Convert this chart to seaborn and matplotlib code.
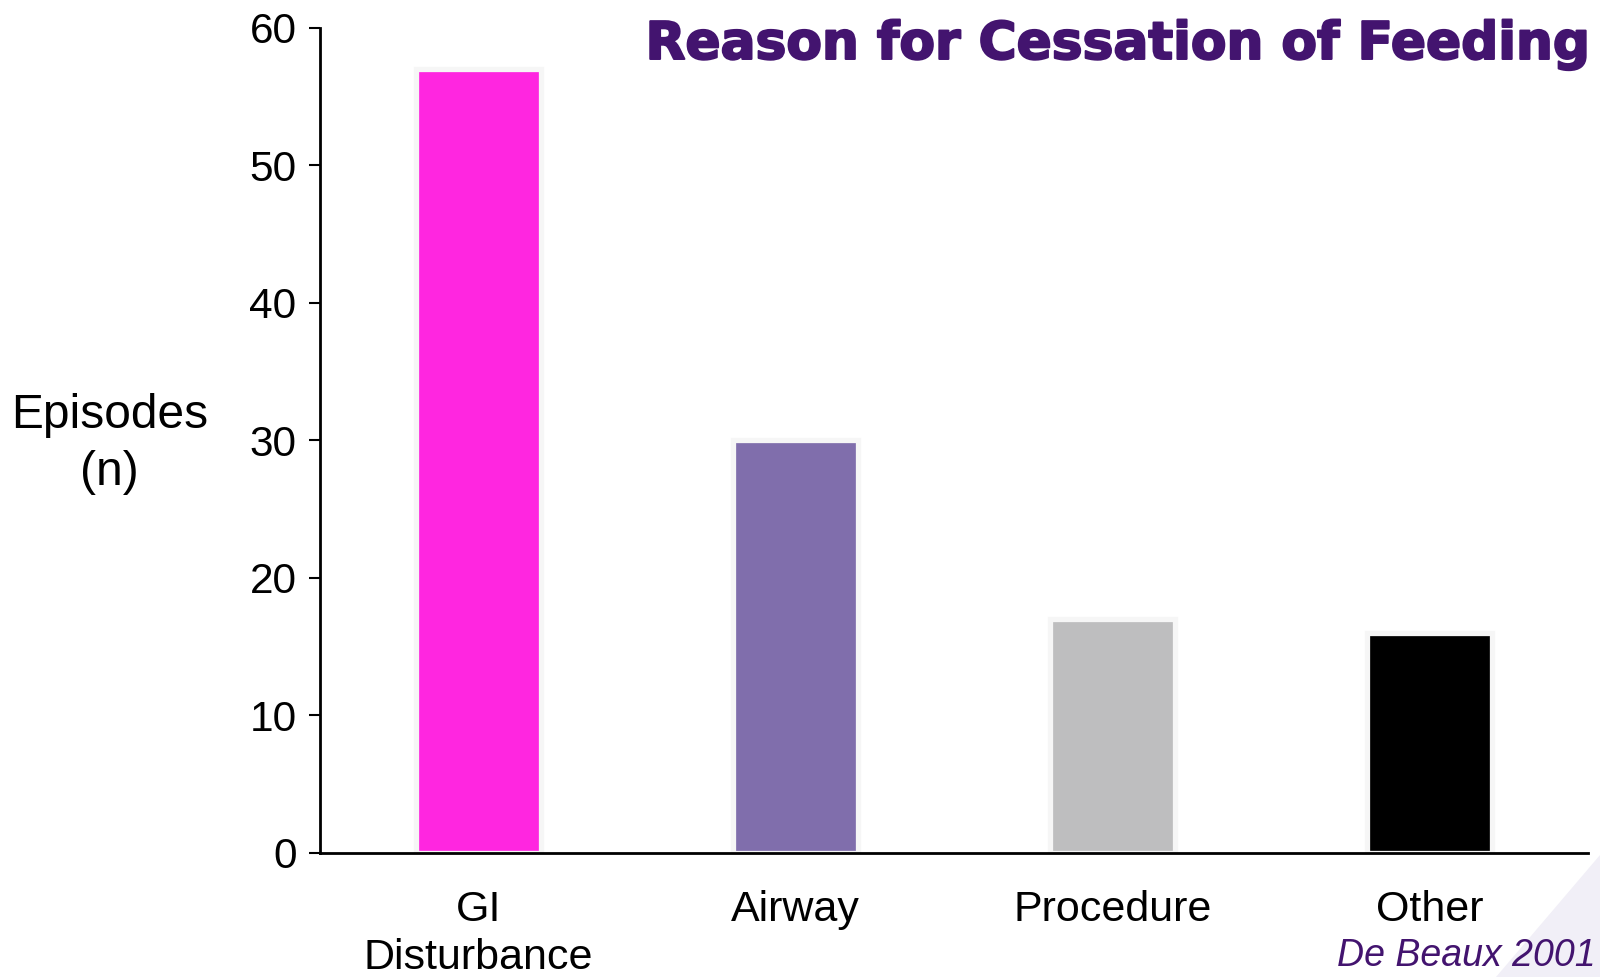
import matplotlib
matplotlib.use("Agg")
import matplotlib.pyplot as plt
import matplotlib.patheffects as pe
import seaborn as sns
import pandas as pd
import numpy as np
from matplotlib.patches import Polygon

# Episodes by reason for stopping enteral feeding
reasons = ["GI\nDisturbance", "Airway", "Procedure", "Other"]
episodes = [57, 30, 17, 16]
bar_colors = ["#ff26e0", "#806eac", "#bebebf", "#000000"]
y_ticks = [0, 10, 20, 30, 40, 50, 60]

title_text = "Reason for Cessation of Feeding"
source_text = "De Beaux 2001"
purple = "#43146f"

sns.set_theme(style="white")
plt.rcParams["font.family"] = ["Liberation Sans", "DejaVu Sans"]

df = pd.DataFrame({"reason": reasons, "episodes": episodes})

fig = plt.figure(figsize=(16, 9.77), dpi=100)
ax = fig.add_axes([0.2, 0.127, 0.7925, 0.8448])

sns.barplot(data=df, x="reason", y="episodes", hue="reason", palette=bar_colors,
            legend=False, width=0.395, edgecolor="#f6f6f6", linewidth=3.8,
            saturation=1, ax=ax)

ax.set_xlim(-0.5, len(reasons) - 0.5)
ax.set_ylim(0, 60)
ax.set_yticks(y_ticks)
ax.set_yticklabels([str(t) for t in y_ticks], fontsize=30.5)
ax.set_xticks(range(len(reasons)))
ax.set_xticklabels(reasons, fontsize=31, linespacing=1.25)
ax.set_xticks(np.arange(-0.5, len(reasons), 1.0), minor=True)
ax.tick_params(axis="x", which="major", length=0, pad=27, colors="black")
ax.tick_params(axis="x", which="minor", length=8, width=1.5, direction="out", color="black")
ax.tick_params(axis="y", which="major", length=8, width=1.5, direction="out", pad=9,
               colors="black", left=True)

for side in ("top", "right"):
    ax.spines[side].set_visible(False)
for side in ("left", "bottom"):
    ax.spines[side].set_color("black")
    ax.spines[side].set_linewidth(2.0)
    ax.spines[side].set_zorder(5)

ax.set_xlabel("")
ax.set_ylabel("")
fig.text(0.0686, 0.5455, "Episodes\n(n)", ha="center", va="center", fontsize=34.5,
         linespacing=1.35, color="black")

fig.text(0.9937, 0.954, title_text, ha="right", va="center", fontsize=37.3,
         fontweight="bold", color=purple, family=["DejaVu Sans"],
         path_effects=[pe.withStroke(linewidth=1.5, foreground=purple)])
fig.text(0.997, 0.0215, source_text, ha="right", va="center", fontsize=27,
         fontstyle="italic", color=purple)

# faint corner decoration
fig.patches.append(Polygon([[0.935, 0.0], [1.0, 0.0], [1.0, 0.125]], closed=True,
                           transform=fig.transFigure, facecolor="#f1eff7",
                           edgecolor="none", zorder=-1))

fig.savefig("out.png", dpi=100)
